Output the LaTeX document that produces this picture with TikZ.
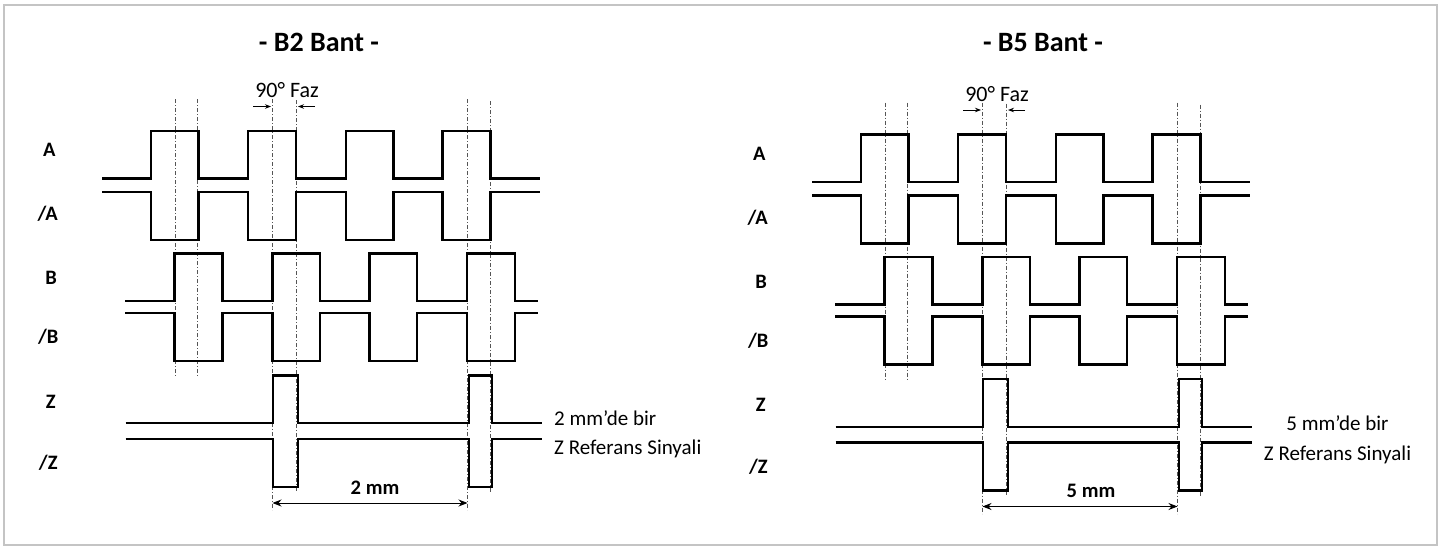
\documentclass[tikz,border=0pt]{standalone}
\usepackage{fontspec}
\setmainfont{Carlito}
\usetikzlibrary{arrows.meta}
\definecolor{framegray}{HTML}{C4C4C4}
\definecolor{guidegray}{HTML}{555555}
\tikzset{
  sig/.style={line width=2.1pt, line join=miter, black},
  guide/.style={line width=0.8pt, guidegray, dash pattern=on 4pt off 2pt on 1pt off 2pt},
  lbl/.style={font=\bfseries\fontsize{20.5}{23}\selectfont, inner sep=0pt},
  ttl/.style={font=\bfseries\fontsize{28}{31}\selectfont, inner sep=0pt},
  txt/.style={font=\fontsize{21}{24}\selectfont, inner sep=0pt},
  faztxt/.style={font=\fontsize{22}{25}\selectfont, inner sep=0pt},
  dimtxt/.style={font=\bfseries\fontsize{20.6}{23}\selectfont, inner sep=0pt},
  fazarrow/.style={line width=0.8pt, -{Stealth[length=6pt,width=4.5pt]}},
  dimarrow/.style={line width=0.9pt, {Stealth[length=9pt,width=7pt]}-{Stealth[length=9pt,width=7pt]}}
}
\newcommand\bandbody{%
  % labels
  \node[lbl] (la) at (49.3,150) {A};
  \node[lbl] (lna) at (47.7,214) {/A};
  \node[lbl] (lb) at (51,278) {B};
  \node[lbl] (lnb) at (48.3,337) {/B};
  \node[lbl] (lz) at (50.7,401.7) {Z};
  \node[lbl] (lnz) at (48.3,463) {/Z};
  % guide lines
  \coordinate (g1t) at (175.3,99);  \coordinate (g1b) at (175.3,377);
  \coordinate (g2t) at (197.5,99);  \coordinate (g2b) at (197.5,377);
  \coordinate (g3t) at (272.5,99);  \coordinate (g3b) at (272.5,510);
  \coordinate (g4t) at (296.5,100); \coordinate (g4b) at (296.5,492);
  \coordinate (g5t) at (467.3,99);  \coordinate (g5b) at (467.3,510);
  \coordinate (g6t) at (490.5,101); \coordinate (g6b) at (490.5,492);
  \foreach \g in {1,...,6} {\draw[guide] (g\g t) -- (g\g b);}
  % signals
  \draw[sig] (102,178.5) -| (151,131) -| (198.5,178.5) -| (248,131) -| (296.3,178.5)
     -| (346,131) -| (393.5,178.5) -| (442.5,131) -| (490.5,178.5) -- (540,178.5);
  \draw[sig] (102,192) -| (151,240) -| (198.5,192) -| (248,240) -| (296.3,192)
     -| (346,240) -| (393.5,192) -| (442.5,240) -| (490.5,192) -- (540,192);
  \draw[sig] (125,301) -| (174.5,253.5) -| (222.5,301) -| (272.5,253.5) -| (320,301)
     -| (369.5,253.5) -| (417,301) -| (467,253.5) -| (515,301) -- (538,301);
  \draw[sig] (125,313) -| (174.5,361) -| (222.5,313) -| (272.5,361) -| (320,313)
     -| (369.5,361) -| (417,313) -| (467,361) -| (515,313) -- (538,313);
  \draw[sig] (125.5,423.3) -| (273,375.5) -| (298,423.3) -| (469,375.5) -| (492,423.3) -- (541.5,423.3);
  \draw[sig] (125.5,439) -| (273,487) -| (298,439) -| (469,487) -| (492,439) -- (541.5,439);
  % 90 degree phase
  \node[faztxt] (faz) at (287,90.5) {90° Faz};
  \coordinate (fa1) at (253,106.5); \coordinate (fa2) at (271,106.5);
  \coordinate (fb1) at (315,106.5); \coordinate (fb2) at (298,106.5);
  \draw[fazarrow] (fa1) -- (fa2);
  \draw[fazarrow] (fb1) -- (fb2);
  % dimension
  \coordinate (d1) at (272.5,503); \coordinate (d2) at (467.5,503);
  \draw[dimarrow] (d1) -- (d2);
}
\begin{document}
\begin{tikzpicture}[x=1pt,y=-1pt]
\useasboundingbox (0,0) rectangle (1441,549);
\draw[framegray, line width=2pt] (4,5) rectangle (1437,545);
% left band
\begin{scope}[name prefix=l-]
  \bandbody
\end{scope}
\node[ttl] (t1) at (319,42) {- B2 Bant -};
\node[dimtxt] (m1) at (375,488) {2 mm};
\node[txt, anchor=base west] (r1a) at (554,425.7) {2 mm’de bir};
\node[txt, anchor=base west] (r1b) at (554,454.3) {Z Referans Sinyali};
% right band
\begin{scope}[shift={(710,3.5)}, name prefix=r-]
  \bandbody
\end{scope}
\node[ttl] (t2) at (1043,43) {- B5 Bant -};
\node[dimtxt] (m2) at (1091,491) {5 mm};
\node[txt, anchor=base] (r2a) at (1337.5,430.7) {5 mm’de bir};
\node[txt, anchor=base] (r2b) at (1337.5,460) {Z Referans Sinyali};
\end{tikzpicture}
\end{document}
